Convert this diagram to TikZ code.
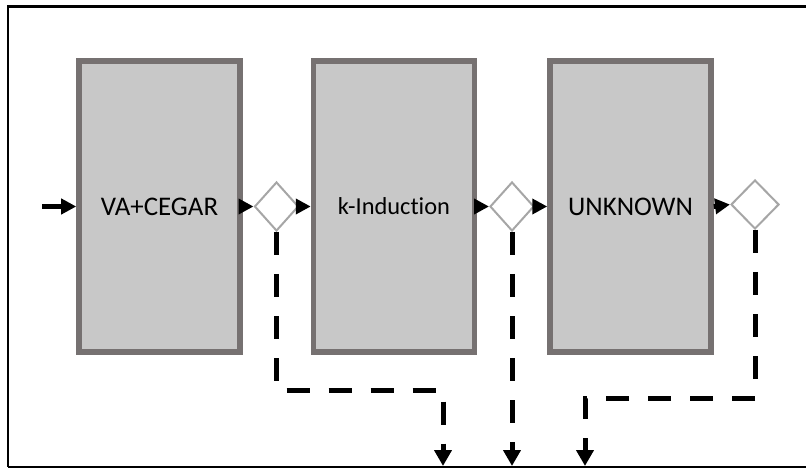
\documentclass[tikz,border=0pt]{standalone}
\usepackage{fontspec}
\setmainfont{Carlito}[Ligatures=NoCommon]
\usetikzlibrary{positioning,arrows.meta,shapes.geometric}
\definecolor{stagefill}{RGB}{200,200,200}
\definecolor{stageedge}{RGB}{118,113,113}
\definecolor{choiceedge}{RGB}{166,166,166}
\begin{document}
\begin{tikzpicture}[x=1bp,y=1bp,
		stage/.style={draw=stageedge,fill=stagefill,line width=5.5bp,minimum width=161bp,minimum height=291bp,inner sep=0pt,font=\fontsize{27}{30}\selectfont},
		choice/.style={diamond,draw=choiceedge,fill=white,line width=2bp,minimum width=44bp,minimum height=49bp,inner sep=0pt},
		flow/.style={line width=5bp,-{Triangle[length=15bp,width=15bp]}},
		exit/.style={line width=5bp,dash pattern=on 23bp off 19bp,-{Triangle[length=16bp,width=17bp]}}]
		\useasboundingbox (0,0) rectangle (806,-469);
		\draw [line width=2.5bp] (806,-6.5) -- (8,-6.5) -- (8,-467);
		\draw [line width=1.5bp] (8,-467) -- (806,-467);
		\node [stage] (vacegar) at (159.5,-206.5) {VA+CEGAR};
		\node [stage,font=\fontsize{24.5}{28}\selectfont] (kind) at (394,-206.5) {k-Induction};
		\node [stage] (unknown) at (630.5,-206.5) {UNKNOWN};
		\node [choice] (d1) at (276.5,-206.5) {};
		\node [choice] (d2) at (512,-206.5) {};
		\node [choice,minimum width=48bp] (d3) at (755,-204.5) {};
		\coordinate (start) at (42,-206.5);
		\coordinate (bend1) at (443,-390);
		\coordinate (end1) at (443,-466);
		\coordinate (end2) at (513,-466);
		\coordinate (bend3) at (585,-398);
		\coordinate (end3) at (585,-466);
		\draw [flow] (start) -- (vacegar.west);
		\draw [flow] (vacegar.east) -- (d1.west);
		\draw [flow] (d1.east) -- (kind.west);
		\draw [flow] (kind.east) -- (d2.west);
		\draw [flow] (d2.east) -- (unknown.west);
		\draw [flow] (unknown.east) -- (d3.west);
		\draw [exit] (d1.south) |- (bend1) -- (end1);
		\draw [exit] (d2.south) -- (d2.south |- end2);
		\draw [exit] (d3.south) |- (bend3) -- (end3);
\end{tikzpicture}
\end{document}
